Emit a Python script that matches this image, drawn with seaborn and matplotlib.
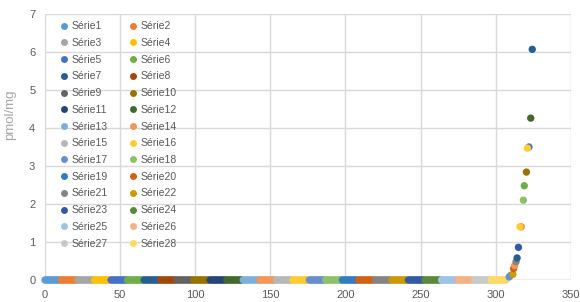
import matplotlib
matplotlib.use("Agg")
import matplotlib.pyplot as plt
import seaborn as sns
import pandas as pd

# series names and Excel default palette
series = ["Série%d" % i for i in range(1, 29)]
colors = ["#5B9BD5", "#ED7D31", "#A5A5A5", "#FFC000", "#4472C4", "#70AD47",
          "#255E91", "#9E480E", "#636363", "#997300", "#264478", "#43682B",
          "#7CAFDD", "#F1975A", "#B7B7B7", "#FFCD33", "#698ED0", "#8CC168",
          "#327DC2", "#D26012", "#848484", "#CC9A00", "#335AA1", "#5A8A39",
          "#9DC3E6", "#F4B183", "#C9C9C9", "#FFD966"]

# number of zero-valued samples per series (consecutive sample index)
zero_counts = [11] * 28

# non-zero tail samples: (series number, x, value)
tail_series = [1, 17, 22, 20, 14, 21, 7, 23, 2, 16, 18, 6, 10, 5, 16, 12, 7]
tail_x = [309, 310, 311.5, 312, 312.7, 313.6, 314.3, 315.2, 317, 316.2,
          318.5, 319.1, 320.5, 322.2, 321.2, 323.4, 324.4]
tail_y = [0.08, 0.12, 0.15, 0.30, 0.38, 0.48, 0.58, 0.86, 1.40, 1.40,
          2.10, 2.48, 2.84, 3.50, 3.47, 4.26, 6.07]

rows = []
pos = 0
for name, n in zip(series, zero_counts):
    for k in range(n):
        rows.append((name, pos, 0.0))
        pos += 1
for s, x, y in zip(tail_series, tail_x, tail_y):
    rows.append((series[s - 1], x, y))
df = pd.DataFrame(rows, columns=["serie", "x", "y"])

sns.set_style("white")
plt.rcParams["font.family"] = ["Liberation Sans", "DejaVu Sans"]

fig = plt.figure(figsize=(5.8, 3.02), dpi=100)
ax = fig.add_axes([45 / 580, 22 / 302, 525.7 / 580, 266 / 302])

sns.scatterplot(data=df, x="x", y="y", hue="serie", hue_order=series,
                palette=colors, s=28, linewidth=0, ax=ax, legend=False,
                zorder=3, clip_on=False)

ax.set_xlim(0, 350)
ax.set_ylim(0, 7)
ax.set_xticks(range(0, 351, 50))
ax.set_yticks(range(0, 8))
ax.grid(True, color="#D9D9D9", linewidth=1)
for sp in ax.spines.values():
    sp.set_visible(False)
ax.axhline(0, color="#BFBFBF", linewidth=1, zorder=2)
ax.tick_params(length=0, labelsize=8, labelcolor="#595959", pad=7)
ax.set_xlabel("")
ax.set_ylabel("pmol/mg", fontsize=9.5, color="#A6A6A6")
ax.yaxis.set_label_coords(-0.055, 0.62)

# legend laid out row by row: odd series in column 1, even in column 2
handles = [plt.Line2D([], [], marker="o", linestyle="", markersize=5,
                      markerfacecolor=c, markeredgewidth=0) for c in colors]
order = list(range(0, 28, 2)) + list(range(1, 28, 2))
ax.legend([handles[i] for i in order], [series[i] for i in order], ncol=2,
          loc="upper left", bbox_to_anchor=(0.01, 1.0), frameon=False,
          fontsize=7.5, labelcolor="#595959", handletextpad=0.1,
          columnspacing=1.9, labelspacing=0.645, handlelength=1.2,
          borderaxespad=0.3)

plt.savefig("out.png", dpi=100)
plt.close()
